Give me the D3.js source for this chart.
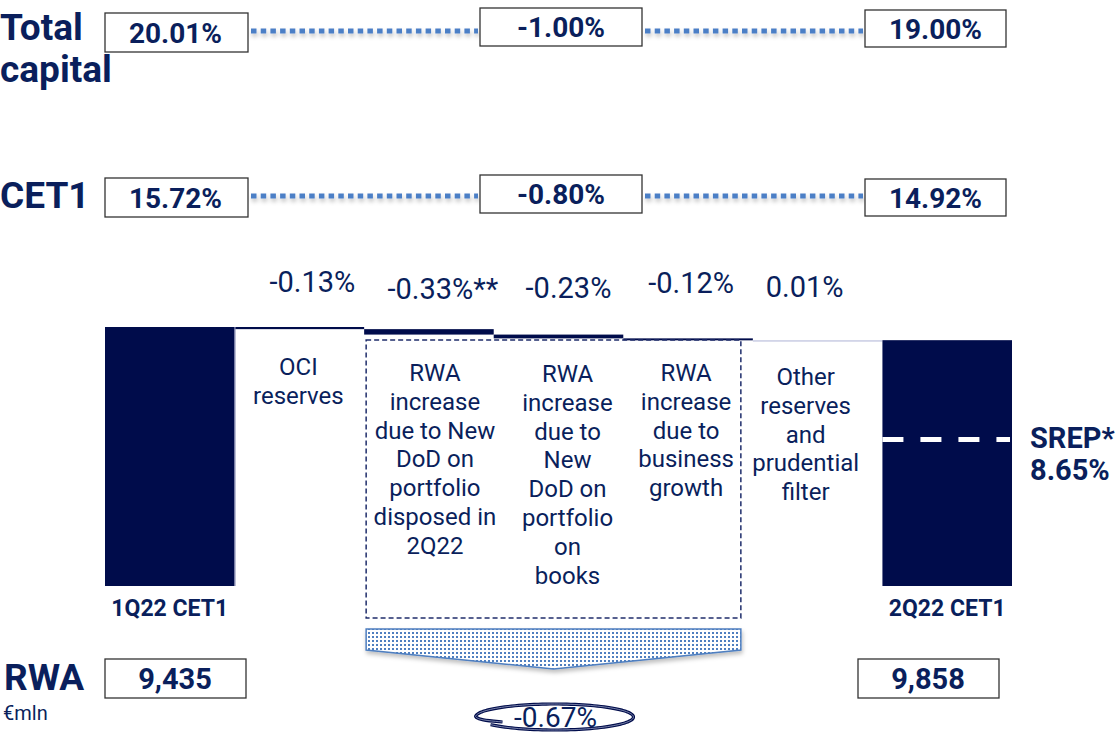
<!DOCTYPE html>
<html>
<head>
<meta charset="utf-8">
<script src="https://cdn.jsdelivr.net/npm/d3@7"></script>
<style>
  body { margin: 0; background: #fff; }
  svg { font-family: Roboto, "Noto Sans", sans-serif; display: block; }
</style>
</head>
<body>
<div class="chart"></div>
<script>

// data
const categories = ["1Q22 CET1", "OCI reserves", "RWA disposed", "RWA new DoD", "RWA growth", "Other reserves", "2Q22 CET1"];
const stepValues = [15.72, -0.13, -0.33, -0.23, -0.12, 0.01, 14.92];
const stepLabels = ["", "-0.13%", "-0.33%**", "-0.23%", "-0.12%", "0.01%", ""];
const stepText = [
	[],
	["OCI", "reserves"],
	["RWA", "increase", "due to New", "DoD on", "portfolio", "disposed in", "2Q22"],
	["RWA", "increase", "due to", "New", "DoD on", "portfolio", "on", "books"],
	["RWA", "increase", "due to", "business", "growth"],
	["Other", "reserves", "and", "prudential", "filter"],
	[]
];
const totalCapital = ["20.01%", "-1.00%", "19.00%"];
const cet1 = ["15.72%", "-0.80%", "14.92%"];
const rwa = ["9,435", "9,858"];
const rwaDelta = "-0.67%";
const srep = 8.65;

const width = 1120, height = 733;
const navy = "#000c4b";
const textNavy = "#0a1f5c";
const blue = "#4f7fc0";

const svg = d3.select(".chart").append("svg")
	.attr("width", width)
	.attr("height", height);

const defs = svg.append("defs");
const shadow = defs.append("filter").attr("id", "shadow")
	.attr("filterUnits", "userSpaceOnUse")
	.attr("x", 0).attr("y", 0).attr("width", width).attr("height", height);
shadow.append("feDropShadow")
	.attr("dx", 1).attr("dy", 3).attr("stdDeviation", 2)
	.attr("flood-color", "#000").attr("flood-opacity", 0.25);

const dots = defs.append("pattern").attr("id", "dots")
	.attr("width", 4).attr("height", 4).attr("patternUnits", "userSpaceOnUse");
dots.append("rect").attr("width", 4).attr("height", 4).attr("fill", "#fff");
dots.append("rect").attr("width", 2).attr("height", 2).attr("fill", blue);

// scales
const x = d3.scaleBand().domain(categories).range([105, 1012]).padding(0);
const y = d3.scaleLinear().domain([0, stepValues[0]]).range([586, 327]);

// waterfall steps
let running = 0;
const bars = stepValues.map((v, i) => {
	let y0, y1;
	if (i === 0 || i === stepValues.length - 1) {
		y0 = 0; y1 = v; running = v;
	} else {
		y0 = running; y1 = running + v; running = y1;
	}
	return { cat: categories[i], lo: Math.min(y0, y1), hi: Math.max(y0, y1), v, i };
});

svg.selectAll(".bar")
	.data(bars).enter()
	.append("rect")
		.attr("class", "bar")
		.attr("x", (d) => x(d.cat))
		.attr("width", x.bandwidth())
		.attr("y", (d) => y(d.hi))
		.attr("height", (d) => Math.max(1.5, y(d.lo) - y(d.hi)))
		.attr("fill", (d) => (d.v > 0 && d.i > 0 && d.i < 6) ? "#c9cce3" : navy);

// thin left border of the OCI cell
svg.append("line")
	.attr("x1", x(categories[1]) + 0.5).attr("x2", x(categories[1]) + 0.5)
	.attr("y1", y(stepValues[0])).attr("y2", 586)
	.attr("stroke", "#8a8fb5").attr("stroke-width", 1);

// step value labels
const labelDx = [0, 13, 14, 10, 3, -13, 0];
const labelY = [0, 292, 299, 298, 293, 297, 0];
svg.selectAll(".step-label")
	.data(bars.filter((d) => stepLabels[d.i])).enter()
	.append("text")
		.attr("class", "step-label")
		.attr("x", (d) => x(d.cat) + x.bandwidth() / 2 + labelDx[d.i])
		.attr("y", (d) => labelY[d.i])
		.attr("text-anchor", "middle")
		.attr("font-size", 29)
		.attr("fill", textNavy)
		.text((d) => stepLabels[d.i]);

// category descriptions
const descDx = [0, -1, 6, 9, -2, -12, 0];
const descY = [0, 375, 381, 382, 381, 385, 0];
const desc = svg.selectAll(".desc")
	.data(bars.filter((d) => stepText[d.i].length)).enter()
	.append("text")
		.attr("class", "desc")
		.attr("text-anchor", "middle")
		.attr("font-size", 24)
		.attr("fill", textNavy);
desc.selectAll("tspan")
	.data((d) => stepText[d.i].map((t) => ({ t, d })))
	.enter().append("tspan")
		.attr("x", (e) => x(e.d.cat) + x.bandwidth() / 2 + descDx[e.d.i])
		.attr("y", (e, j) => descY[e.d.i] + j * 28.8)
		.text((e) => e.t);

// bar labels
svg.selectAll(".bar-label")
	.data([bars[0], bars[6]]).enter()
	.append("text")
		.attr("class", "bar-label")
		.attr("x", (d) => x(d.cat) + x.bandwidth() / 2)
		.attr("y", 616)
		.attr("text-anchor", "middle")
		.attr("font-size", 23)
		.attr("font-weight", "bold")
		.attr("fill", textNavy)
		.text((d) => d.cat);

// dashed RWA group box
const gx0 = x(categories[2]) + 2, gx1 = x(categories[4]) + x.bandwidth() - 12;
svg.append("rect")
	.attr("x", gx0).attr("y", 340)
	.attr("width", gx1 - gx0).attr("height", 278)
	.attr("fill", "none")
	.attr("stroke", "#1f2d6b").attr("stroke-width", 1.5)
	.attr("stroke-dasharray", "5 3");

// arrow
const ax = (gx0 + gx1) / 2;
svg.append("path")
	.attr("d", `M${gx0},629 L${gx1},629 L${gx1},650 L${ax},669 L${gx0},650 Z`)
	.attr("fill", "url(#dots)")
	.attr("stroke", blue).attr("stroke-width", 1.5)
	.attr("filter", "url(#shadow)");

// hand-drawn ellipse round -0.67%
const ecx = ax + 1, ecy = 717, erx = 79, ery = 13;
const ellPts = d3.range(180, 507, 3).map((t) => [
	ecx + erx * Math.cos(t * Math.PI / 180),
	ecy + ery * Math.sin(t * Math.PI / 180)
]);
ellPts.unshift([ecx - 52, 722], [ecx - 74, 720]);
const ellPath = d3.line().curve(d3.curveBasis)(ellPts);
svg.append("path")
	.attr("d", ellPath)
	.attr("fill", "none")
	.attr("stroke", navy).attr("stroke-width", 3.2);
svg.append("path")
	.attr("d", ellPath)
	.attr("fill", "none")
	.attr("stroke", "#9aa3c4").attr("stroke-width", 0.8);
svg.append("text")
	.attr("x", ecx + 1).attr("y", 727)
	.attr("text-anchor", "middle")
	.attr("font-size", 28)
	.attr("fill", textNavy)
	.text(rwaDelta);

// SREP dashed line
svg.append("line")
	.attr("x1", x(categories[6])).attr("x2", x(categories[6]) + x.bandwidth() - 2)
	.attr("y1", y(srep) - 4).attr("y2", y(srep) - 4)
	.attr("stroke", "#fff").attr("stroke-width", 5)
	.attr("stroke-dasharray", "21 17");
svg.append("text")
	.attr("font-size", 29).attr("font-weight", "bold").attr("fill", textNavy)
	.selectAll("tspan").data(["SREP*", srep.toFixed(2) + "%"]).enter()
	.append("tspan")
		.attr("x", 1030)
		.attr("y", (d, i) => 448 + i * 32)
		.text((d) => d);

// header rows
function row(labelLines, values, rowY, boxYs, lineY) {
	const boxes = [
		{ x: 105, w: 143, y: boxYs[0], h: 39 },
		{ x: 480, w: 162, y: boxYs[1], h: 38 },
		{ x: 865, w: 141, y: boxYs[2], h: 37 }
	];
	// dotted connectors
	[[boxes[0].x + boxes[0].w + 3, boxes[1].x - 2], [boxes[1].x + boxes[1].w + 3, boxes[2].x - 2]]
		.forEach((seg) => {
			svg.append("line")
				.attr("x1", seg[0]).attr("x2", seg[1])
				.attr("y1", lineY).attr("y2", lineY)
				.attr("stroke", "#4c7fc6").attr("stroke-width", 5)
				.attr("stroke-dasharray", "5.5 4.2")
				.attr("filter", "url(#shadow)");
		});
	boxes.forEach((b, i) => {
		svg.append("rect")
			.attr("x", b.x).attr("y", b.y).attr("width", b.w).attr("height", b.h)
			.attr("fill", "#fff").attr("stroke", "#333").attr("stroke-width", 1.3);
		svg.append("text")
			.attr("x", b.x + b.w / 2 + (i === 0 ? -1 : 0)).attr("y", b.y + b.h / 2 + 10)
			.attr("text-anchor", "middle")
			.attr("font-size", 28).attr("font-weight", "bold")
			.attr("fill", textNavy)
			.text(values[i]);
	});
	svg.append("text")
		.attr("font-size", 37).attr("font-weight", "bold").attr("fill", textNavy)
		.selectAll("tspan").data(labelLines).enter()
		.append("tspan")
			.attr("x", 0)
			.attr("y", (d, i) => rowY + i * 42)
			.text((d) => d);
}

row(["Total", "capital"], totalCapital, 40, [13, 8, 10], 31);
row(["CET1"], cet1, 208, [178, 175, 179], 196);

// RWA row
svg.append("text")
	.attr("x", 4).attr("y", 690)
	.attr("font-size", 37).attr("font-weight", "bold").attr("fill", textNavy)
	.text("RWA");
svg.append("text")
	.attr("x", 3).attr("y", 720)
	.attr("font-size", 20).attr("fill", textNavy)
	.text("€mln");
[{ x: 105, v: rwa[0] }, { x: 858, v: rwa[1] }].forEach((b) => {
	svg.append("rect")
		.attr("x", b.x).attr("y", 659).attr("width", 141).attr("height", 39)
		.attr("fill", "#fff").attr("stroke", "#333").attr("stroke-width", 1.3);
	svg.append("text")
		.attr("x", b.x + 70).attr("y", 689)
		.attr("text-anchor", "middle")
		.attr("font-size", 29).attr("font-weight", "bold")
		.attr("fill", textNavy)
		.text(b.v);
});

</script>
</body>
</html>
